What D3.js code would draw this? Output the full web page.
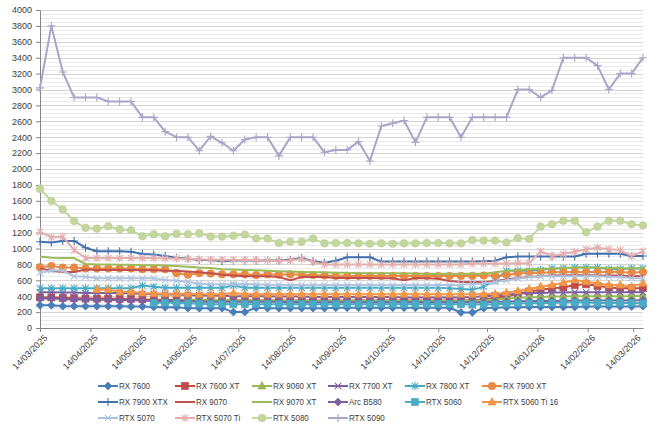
<!DOCTYPE html>
<html><head><meta charset="utf-8">
<script src="https://cdn.jsdelivr.net/npm/d3@7"></script>
<style>
body{margin:0;background:#fff}
svg{display:block}
text{font-family:'Liberation Sans',Arial,sans-serif;fill:#404040}
</style>
</head><body>
<svg id="c" width="660" height="431"></svg>
<script>
const dates=["2025-03-14","2025-03-21","2025-03-28","2025-04-04","2025-04-11","2025-04-18","2025-04-25","2025-05-02","2025-05-09","2025-05-16",
"2025-05-23","2025-05-30","2025-06-06","2025-06-13","2025-06-20","2025-06-27","2025-07-04","2025-07-11","2025-07-18","2025-07-25",
"2025-08-01","2025-08-08","2025-08-15","2025-08-22","2025-08-29","2025-09-05","2025-09-12","2025-09-19","2025-09-26","2025-10-03",
"2025-10-10","2025-10-17","2025-10-24","2025-10-31","2025-11-07","2025-11-14","2025-11-21","2025-11-28","2025-12-05","2025-12-12",
"2025-12-19","2025-12-26","2026-01-02","2026-01-09","2026-01-16","2026-01-23","2026-01-30","2026-02-06","2026-02-13","2026-02-20",
"2026-02-27","2026-03-06","2026-03-13","2026-03-20"];
const tickDates=["2025-03-14","2025-04-14","2025-05-14","2025-06-14","2025-07-14","2025-08-14","2025-09-14","2025-10-14","2025-11-14","2025-12-14","2026-01-14","2026-02-14","2026-03-14"];
const tickLabels=["14/03/2025","14/04/2025","14/05/2025","14/06/2025","14/07/2025","14/08/2025","14/09/2025","14/10/2025","14/11/2025","14/12/2025","14/01/2026","14/02/2026","14/03/2026"];
const yTicks=[0,200,400,600,800,1000,1200,1400,1600,1800,2000,2200,2400,2600,2800,3000,3200,3400,3600,3800,4000];

const seriesNames=["RX 7600","RX 7600 XT","RX 9060 XT","RX 7700 XT","RX 7800 XT","RX 7900 XT","RX 7900 XTX","RX 9070","RX 9070 XT","Arc B580","RTX 5060","RTX 5060 Ti 16","RTX 5070","RTX 5070 Ti","RTX 5080","RTX 5090"];
const seriesColors=["#4A7EBB","#BE4B48","#98B954","#7D60A0","#46AAC5","#E98A43","#4472AE","#C0504D","#9BBB59","#7F5FA0","#4BACC6","#F79646","#AFC3DF","#E4AEAD","#C3D69B","#ACA4C8"];
const seriesMarkers=["diamond","square","triangle","x","star","circle","plus","none","none","diamond","square","triangle","x","star","circle","plus"];

const rx7600=[285,285,275,275,275,275,275,275,270,270, 265,260,260,250,250,250,250,200,200,255, 250,250,250,250,250,250,255,255,255,255, 255,255,255,255,255,255,255,195,195,250, 255,260,260,265,265,265,265,265,270,270, 270,270,270,275];
const rx7600xt=[385,385,380,375,370,370,370,365,365,360, 355,355,350,350,350,350,345,345,345,345, 345,345,345,345,345,345,345,345,345,345, 345,345,345,345,345,345,345,345,350,360, 380,400,430,460,480,500,510,540,550,530, 510,500,500,500];
const rx9060xt=[null,null,null,null,null,null,null,null,null,null, null,null,null,360,355,355,350,350,345,345, 345,340,340,340,340,340,340,340,340,340, 340,340,340,340,340,340,340,340,345,350, 360,370,380,385,390,395,395,400,400,400, 400,400,400,405];
const rx7700xt=[450,450,445,445,440,440,440,440,435,430, 425,420,420,415,410,410,405,400,400,400, 400,395,395,395,390,390,390,390,390,390, 390,390,385,385,385,385,385,385,390,400, 410,420,430,440,440,445,445,450,450,450, 450,450,450,450];
const rx7800xt=[500,500,500,500,500,500,500,500,500,535, 520,505,505,505,505,505,505,535,505,505, 505,505,505,505,505,505,505,505,505,505, 505,505,505,505,505,505,500,490,480,520, 600,720,720,720,730,750,750,760,760,760, 740,740,750,750];
const rx7900xt=[765,780,760,760,750,750,750,750,750,740, 740,740,690,670,690,685,675,675,675,665, 675,670,675,670,665,660,655,655,655,655, 655,655,655,655,655,655,655,655,655,660, 660,665,690,690,695,700,705,705,705,705, 705,705,695,705];
const rx7900xtx=[1085,1075,1095,1095,1010,965,965,965,960,930, 925,905,885,875,855,855,840,850,850,850, 850,850,860,880,840,820,845,890,890,890, 835,835,835,835,835,835,835,835,835,840, 845,890,900,900,900,900,900,900,935,935, 935,935,905,905];
const rx9070=[750,720,705,705,735,730,730,730,730,725, 725,720,720,710,700,690,670,660,650,650, 650,640,600,640,640,640,630,630,630,630, 625,625,600,630,625,620,590,580,580,580, 590,610,630,640,650,660,665,665,665,660, 660,660,650,655];
const rx9070xt=[900,885,880,880,805,800,800,795,795,790, 790,785,780,770,760,755,740,735,730,725, 720,715,710,705,700,700,695,695,690,690, 690,690,685,685,680,680,680,680,680,680, 700,720,730,740,745,750,755,760,760,760, 755,755,750,755];
const arcB580=[370,370,365,360,360,355,355,350,350,345, 340,340,335,335,330,330,330,330,330,330, 330,330,325,325,325,325,325,325,325,325, 325,325,325,325,325,325,325,325,325,325, 330,330,335,335,340,340,340,345,345,345, 345,345,345,350];
const rtx5060=[null,null,null,null,null,null,null,null,null,null, 315,320,315,310,305,300,300,300,300,300, 300,300,300,300,300,300,300,300,300,300, 300,300,300,300,300,300,300,300,295,295, 300,305,310,310,315,315,320,320,320,315, 315,315,315,310];
const rtx5060ti16=[null,null,null,null,null,485,485,455,455,440, 435,430,430,430,425,425,425,440,425,425, 425,425,425,425,425,425,425,425,425,425, 425,425,425,425,425,425,425,425,425,428, 428,444,465,491,520,541,570,604,583,562, 541,541,520,562];
const rtx5070=[695,725,720,650,645,625,625,625,625,625, 625,605,595,580,560,550,550,550,555,550, 545,545,540,540,540,540,540,540,540,540, 540,540,540,540,540,540,540,545,555,560, 580,600,620,640,650,650,650,650,650,650, 645,640,630,625];
const rtx5070ti=[1210,1140,1150,980,880,880,880,880,880,880, 880,875,875,870,865,860,860,860,855,855, 850,845,850,870,830,800,800,800,800,800, 800,800,800,800,800,800,800,800,810,810, 810,810,815,815,965,905,930,960,990,1010, 990,980,905,965];
const rtx5080=[1750,1600,1490,1345,1260,1250,1280,1240,1230,1155, 1180,1155,1185,1180,1190,1150,1150,1160,1175,1125, 1125,1070,1085,1085,1125,1065,1070,1070,1065,1060, 1065,1060,1065,1065,1070,1070,1065,1065,1105,1100, 1100,1075,1130,1120,1275,1305,1350,1350,1205,1275, 1350,1350,1305,1290];
const rtx5090=[3020,3800,3220,2900,2900,2900,2850,2850,2850,2650, 2650,2470,2400,2400,2230,2410,2330,2230,2370,2400, 2400,2165,2400,2400,2400,2210,2240,2240,2345,2100, 2540,2575,2610,2335,2650,2650,2650,2400,2650,2650, 2650,2650,3000,3000,2900,2990,3400,3400,3400,3300, 3000,3200,3200,3400];

const seriesValues=[rx7600,rx7600xt,rx9060xt,rx7700xt,rx7800xt,rx7900xt,rx7900xtx,rx9070,rx9070xt,arcB580,rtx5060,rtx5060ti16,rtx5070,rtx5070ti,rtx5080,rtx5090];

const svg=d3.select("#c");
const L=40,R=643,T=10,B=328;
const parse=d3.utcParse("%Y-%m-%d");
const x=d3.scaleUtc().domain([parse(dates[0]),parse(dates[dates.length-1])]).range([L,R]);
const y=d3.scaleLinear().domain([0,4000]).range([B,T]);

// gridlines
const grid=svg.append("g");
const minor=d3.range(0,4001,50);
grid.selectAll("line.mi").data(minor).join("line")
 .attr("x1",L).attr("x2",R).attr("y1",d=>Math.round(y(d))+0.5).attr("y2",d=>Math.round(y(d))+0.5)
 .attr("stroke",d=>d%200===0?"#D4D4D4":"#EBEBEB").attr("stroke-width",1);

// y axis
const ya=svg.append("g").attr("transform",`translate(${L},0)`)
 .call(d3.axisLeft(y).tickValues(yTicks).tickSize(4).tickSizeOuter(0).tickFormat(d3.format("d")));
ya.select(".domain").attr("stroke","#868686");
ya.selectAll(".tick line").attr("stroke","#868686");
ya.selectAll("text").attr("font-size","9px").attr("fill","#404040").attr("dx","-1");

// x axis
const xa=svg.append("g").attr("transform",`translate(0,${B})`)
 .call(d3.axisBottom(x).tickValues(tickDates.map(parse)).tickSize(4).tickSizeOuter(0).tickFormat((d,i)=>tickLabels[i]));
xa.select(".domain").attr("stroke","#868686");
xa.selectAll(".tick line").attr("stroke","#868686");
xa.selectAll("text").attr("font-size","9px").attr("fill","#404040")
 .attr("text-anchor","end").attr("transform","translate(3,6) rotate(-45)").attr("dy","0.7em").attr("y",0);

function drawMarker(g,type,color){
  const stroke=d3.color(color).darker(0.15).formatHex();
  if(type==="diamond") g.append("path").attr("d","M0,-4L4,0L0,4L-4,0Z").attr("fill",color).attr("stroke",stroke).attr("stroke-width",0.6);
  else if(type==="square") g.append("rect").attr("x",-3.5).attr("y",-3.5).attr("width",7).attr("height",7).attr("fill",color).attr("stroke",stroke).attr("stroke-width",0.6);
  else if(type==="triangle") g.append("path").attr("d","M0,-4.5L4,3L-4,3Z").attr("fill",color).attr("stroke",stroke).attr("stroke-width",0.6);
  else if(type==="circle") g.append("circle").attr("r",3.8).attr("fill",color).attr("stroke",stroke).attr("stroke-width",0.6);
  else if(type==="x") g.append("path").attr("d","M-3.2,-3.2L3.2,3.2M-3.2,3.2L3.2,-3.2").attr("stroke",color).attr("stroke-width",1.1).attr("fill","none");
  else if(type==="star") g.append("path").attr("d","M-3.2,-3.2L3.2,3.2M-3.2,3.2L3.2,-3.2M0,-4L0,4").attr("stroke",color).attr("stroke-width",1.1).attr("fill","none");
  else if(type==="plus") g.append("path").attr("d","M-4,0L4,0M0,-4L0,4").attr("stroke",color).attr("stroke-width",1.1).attr("fill","none");
}

const line=d3.line().defined(d=>d.v!=null).x(d=>x(d.t)).y(d=>y(d.v));
const plot=svg.append("g");
seriesValues.forEach((vals,si)=>{
  const pts=vals.map((v,i)=>({t:parse(dates[i]),v}));
  const g=plot.append("g");
  g.append("path").datum(pts).attr("d",line).attr("fill","none").attr("stroke",seriesColors[si]).attr("stroke-width",2).attr("stroke-linejoin","round");
  if(seriesMarkers[si]!=="none"){
    pts.filter(d=>d.v!=null).forEach(d=>{
      const m=g.append("g").attr("transform",`translate(${x(d.t)},${y(d.v)})`);
      drawMarker(m,seriesMarkers[si],seriesColors[si]);
    });
  }
});

// legend
const leg=svg.append("g");
const colX=[98,175,252,328,405,482], rowY=[386,402,418];
seriesNames.forEach((n,i)=>{
  const cx=colX[i%6], cy=rowY[Math.floor(i/6)];
  const g=leg.append("g").attr("transform",`translate(${cx},${cy})`);
  g.append("line").attr("x1",0).attr("x2",20).attr("y1",0).attr("y2",0).attr("stroke",seriesColors[i]).attr("stroke-width",2);
  if(seriesMarkers[i]!=="none") drawMarker(g.append("g").attr("transform","translate(10,0)"),seriesMarkers[i],seriesColors[i]);
  g.append("g").attr("transform","translate(21,0) scale(0.84,1)")
   .append("text").attr("x",0).attr("y",0).attr("dy","0.35em").attr("font-size","9.5px").text(n);
});
</script>
</body></html>
